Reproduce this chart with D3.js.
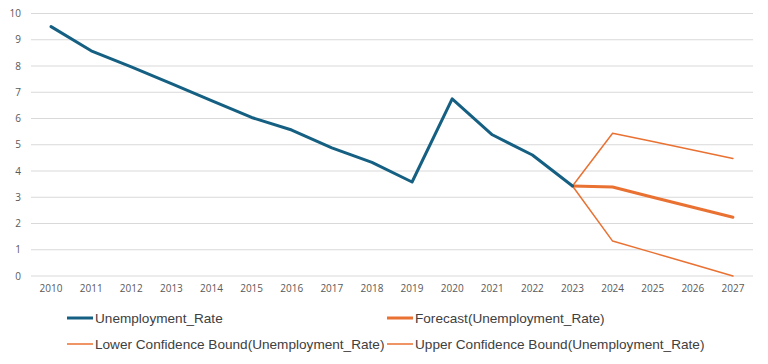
<!DOCTYPE html>
<html><head><meta charset="utf-8">
<script src="https://cdn.jsdelivr.net/npm/d3@7"></script>
<style>body{margin:0;background:#fff}svg{display:block}</style>
</head><body>
<svg id="c" width="768" height="364"></svg>
<script>
const years = ["2010","2011","2012","2013","2014","2015","2016","2017","2018","2019","2020","2021","2022","2023","2024","2025","2026","2027"];
const unemployment = [9.5,8.58,7.97,7.33,6.68,6.04,5.56,4.88,4.33,3.58,6.75,5.38,4.61,3.43,null,null,null,null];
const forecast = [null,null,null,null,null,null,null,null,null,null,null,null,null,3.43,3.39,3.0,2.62,2.24];
const lowerBound = [null,null,null,null,null,null,null,null,null,null,null,null,null,3.43,1.33,0.89,0.45,0.0];
const upperBound = [null,null,null,null,null,null,null,null,null,null,null,null,null,3.43,5.44,5.12,4.80,4.48];
const yTicks = [0,1,2,3,4,5,6,7,8,9,10];
const seriesNames = ["Unemployment_Rate","Forecast(Unemployment_Rate)","Lower Confidence Bound(Unemployment_Rate)","Upper Confidence Bound(Unemployment_Rate)"];

(function(){
const svg = d3.select("#c");
const pL = 31, pR = 753, pT = 13.5, pB = 276;
const x = d3.scaleBand().domain(years).range([pL, pR]);
const y = d3.scaleLinear().domain([0,10]).range([pB, pT]);
const cx = d => x(d) + x.bandwidth()/2;

svg.append("g").selectAll("line").data(yTicks).join("line")
  .attr("x1", pL).attr("x2", pR)
  .attr("y1", d => y(d)).attr("y2", d => y(d))
  .attr("stroke", "#d9d9d9").attr("stroke-width", 1);

const yAxis = d3.axisLeft(y).tickValues(yTicks).tickSize(0).tickPadding(0);
const gy = svg.append("g").attr("transform", `translate(21,0)`).call(yAxis);
gy.select(".domain").remove();
gy.selectAll("text").attr("fill", "#595959").style("font-family", "'Open Sans', sans-serif").style("font-size", "10px");

const xAxis = d3.axisBottom(x).tickSize(0).tickPadding(0);
const gx = svg.append("g").attr("transform", `translate(0,285)`).call(xAxis);
gx.select(".domain").remove();
gx.selectAll("text").attr("fill", "#595959").style("font-family", "'Open Sans', sans-serif").style("font-size", "10px");

const line = d3.line().defined(d => d.v !== null).x(d => cx(d.k)).y(d => y(d.v));
const toPts = arr => years.map((k,i) => ({k, v: arr[i]}));

const series = [
  {data: lowerBound, color: "#e97132", w: 1.5},
  {data: upperBound, color: "#e97132", w: 1.5},
  {data: forecast, color: "#e97132", w: 3},
  {data: unemployment, color: "#156082", w: 3}
];
series.forEach(s => {
  svg.append("path").attr("d", line(toPts(s.data)))
    .attr("fill", "none").attr("stroke", s.color).attr("stroke-width", s.w)
    .attr("stroke-linejoin", "round").attr("stroke-linecap", "round");
});

const legend = [
  {name: seriesNames[0], color: "#156082", w: 3, x: 67, y: 318},
  {name: seriesNames[1], color: "#e97132", w: 3, x: 387, y: 318},
  {name: seriesNames[2], color: "#e97132", w: 1.5, x: 67, y: 344},
  {name: seriesNames[3], color: "#e97132", w: 1.5, x: 387, y: 344}
];
const lg = svg.append("g").selectAll("g").data(legend).join("g");
lg.append("line").attr("x1", d => d.x).attr("x2", d => d.x + 26)
  .attr("y1", d => d.y).attr("y2", d => d.y)
  .attr("stroke", d => d.color).attr("stroke-width", d => d.w);
lg.append("text").attr("x", d => d.x + 28).attr("y", d => d.y).attr("dy", "0.35em")
  .attr("fill", "#404040").style("font-family", "'Liberation Sans Narrow', 'Liberation Sans', sans-serif")
  .style("font-size", "13.6px").text(d => d.name);
})();
</script>
</body></html>
